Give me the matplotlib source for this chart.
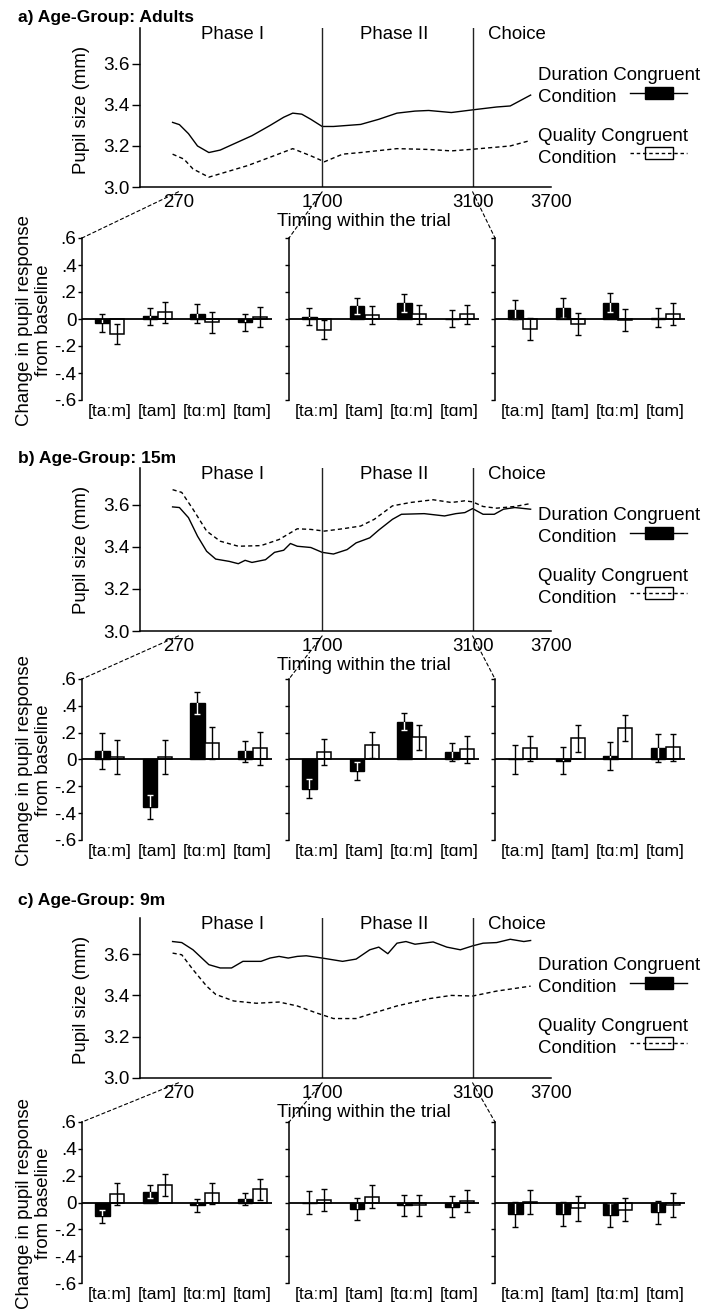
"""
Pupil size over the trial and change in pupil response per phase,
for adults, 15-month-olds and 9-month-olds
"""

import numpy as np
import matplotlib
matplotlib.use("Agg")
import matplotlib.pyplot as plt
from matplotlib.patches import Rectangle, ConnectionPatch
from matplotlib.lines import Line2D

plt.rcParams['font.family'] = ['Liberation Sans', 'DejaVu Sans']
plt.rcParams['font.size'] = 13.4

W, H = 707, 1314

# ---------------- data ----------------
time_ticks = [270, 1700, 3100, 3700]
phase_names = ['Phase I', 'Phase II', 'Choice']
sounds = ['[taːm]', '[tam]', '[tɑːm]', '[tɑm]']
bar_yticks = [-0.6, -0.4, -0.2, 0, 0.2, 0.4, 0.6]
bar_yticklabels = ['-.6', '-.4', '-.2', '0', '.2', '.4', '.6']
pupil_yticks = [3.0, 3.2, 3.4, 3.6]

# the time axis of the original is piecewise (phases drawn with their own widths)
axis_t = [-10000, -113, 270, 1700, 3100, 3700, 10000]
axis_u = [-2194, 0, 85, 402, 734, 907, 2723]

# pupil size traces (mm)
adults_dur_t = [211, 279, 369, 459, 572, 685, 820, 1001, 1181, 1317, 1407, 1497, 1587,
                1700, 1805, 2058, 2227, 2396, 2564, 2691, 2902, 3100, 3284, 3388, 3544]
adults_dur = [3.315, 3.304, 3.26, 3.20, 3.168, 3.18, 3.21, 3.25, 3.30, 3.34, 3.36, 3.355, 3.33,
              3.295, 3.295, 3.305, 3.33, 3.36, 3.37, 3.373, 3.363, 3.376, 3.39, 3.395, 3.448]
adults_qual_t = [211, 324, 414, 572, 956, 1181, 1407, 1587, 1721, 1890, 2058, 2396,
                 2691, 2902, 3100, 3388, 3544]
adults_qual = [3.16, 3.136, 3.088, 3.048, 3.104, 3.145, 3.187, 3.152, 3.123, 3.16, 3.168, 3.187,
               3.183, 3.176, 3.184, 3.2, 3.227]

m15_dur_t = [211, 279, 369, 459, 550, 640, 775, 865, 933, 1001, 1136, 1226, 1317, 1384, 1452,
             1587, 1700, 1805, 1932, 2016, 2143, 2227, 2354, 2438, 2649, 2839, 2944, 3028,
             3100, 3180, 3266, 3336, 3423, 3544]
m15_dur = [3.59, 3.587, 3.539, 3.451, 3.379, 3.342, 3.331, 3.32, 3.336, 3.326, 3.339, 3.374,
           3.384, 3.416, 3.403, 3.397, 3.374, 3.366, 3.387, 3.419, 3.443, 3.48, 3.531, 3.555,
           3.558, 3.547, 3.558, 3.563, 3.582, 3.555, 3.555, 3.579, 3.587, 3.579]
m15_qual_t = [211, 302, 414, 550, 685, 865, 1091, 1271, 1452, 1587, 1721, 1890, 2058, 2185,
              2354, 2522, 2733, 2902, 3028, 3100, 3180, 3284, 3423, 3544]
m15_qual = [3.672, 3.659, 3.579, 3.475, 3.427, 3.403, 3.406, 3.435, 3.486, 3.483, 3.475, 3.486,
            3.499, 3.531, 3.595, 3.611, 3.624, 3.611, 3.619, 3.614, 3.592, 3.584, 3.592, 3.606]

m9_dur_t = [211, 302, 414, 572, 685, 798, 911, 1091, 1181, 1271, 1362, 1452, 1542, 1700, 1890,
            2016, 2143, 2227, 2311, 2396, 2480, 2564, 2733, 2860, 2986, 3100, 3180, 3284,
            3388, 3492, 3544]
m9_dur = [3.661, 3.656, 3.621, 3.549, 3.533, 3.533, 3.565, 3.565, 3.581, 3.589, 3.581, 3.589,
          3.592, 3.581, 3.565, 3.576, 3.621, 3.634, 3.602, 3.653, 3.661, 3.648, 3.659, 3.634,
          3.621, 3.64, 3.653, 3.656, 3.672, 3.661, 3.666]
m9_qual_t = [211, 302, 414, 550, 640, 820, 1046, 1271, 1452, 1632, 1805, 2016, 2143, 2396,
             2691, 2902, 3100, 3284, 3544]
m9_qual = [3.605, 3.597, 3.525, 3.445, 3.405, 3.373, 3.362, 3.368, 3.349, 3.317, 3.288, 3.288,
           3.309, 3.349, 3.384, 3.4, 3.397, 3.421, 3.445]

# change in pupil response from baseline, rows = Phase I, Phase II, Choice
adults_bar_dur = [[-0.03, 0.02, 0.04, -0.025], [0.018, 0.095, 0.12, 0.003], [0.068, 0.083, 0.12, 0.008]]
adults_bar_dur_err = [[0.065, 0.065, 0.07, 0.065], [0.06, 0.06, 0.065, 0.06], [0.07, 0.075, 0.07, 0.07]]
adults_bar_qual = [[-0.11, 0.05, -0.025, 0.015], [-0.08, 0.03, 0.035, 0.035], [-0.075, -0.035, -0.008, 0.035]]
adults_bar_qual_err = [[0.075, 0.077, 0.075, 0.075], [0.07, 0.07, 0.07, 0.07], [0.08, 0.08, 0.08, 0.08]]

m15_bar_dur = [[0.063, -0.355, 0.42, 0.06], [-0.218, -0.085, 0.283, 0.055], [0.0, -0.01, 0.025, 0.083]]
m15_bar_dur_err = [[0.137, 0.087, 0.082, 0.08], [0.07, 0.065, 0.065, 0.065], [0.11, 0.1, 0.105, 0.105]]
m15_bar_qual = [[0.02, 0.02, 0.12, 0.083], [0.057, 0.107, 0.165, 0.075], [0.083, 0.158, 0.233, 0.09]]
m15_bar_qual_err = [[0.125, 0.125, 0.12, 0.125], [0.095, 0.095, 0.095, 0.1], [0.095, 0.1, 0.095, 0.1]]

m9_bar_dur = [[-0.104, 0.081, -0.022, 0.027], [0.0, -0.049, -0.02, -0.03], [-0.086, -0.086, -0.091, -0.074]]
m9_bar_dur_err = [[0.047, 0.047, 0.048, 0.045], [0.084, 0.08, 0.079, 0.08], [0.093, 0.09, 0.09, 0.086]]
m9_bar_qual = [[0.064, 0.131, 0.069, 0.099], [0.017, 0.044, -0.022, 0.01], [0.007, -0.042, -0.054, -0.017]]
m9_bar_qual_err = [[0.082, 0.083, 0.08, 0.079], [0.08, 0.084, 0.078, 0.08], [0.089, 0.094, 0.085, 0.089]]

groups = [
    dict(title='a) Age-Group: Adults', title_y=22, line=(28, 187), bars=(238, 400),
         dur=(adults_dur_t, adults_dur), qual=(adults_qual_t, adults_qual),
         bd=adults_bar_dur, bde=adults_bar_dur_err, bq=adults_bar_qual, bqe=adults_bar_qual_err),
    dict(title='b) Age-Group: 15m', title_y=463, line=(468, 631), bars=(679, 840),
         dur=(m15_dur_t, m15_dur), qual=(m15_qual_t, m15_qual),
         bd=m15_bar_dur, bde=m15_bar_dur_err, bq=m15_bar_qual, bqe=m15_bar_qual_err),
    dict(title='c) Age-Group: 9m', title_y=905, line=(918, 1078), bars=(1122, 1283),
         dur=(m9_dur_t, m9_dur), qual=(m9_qual_t, m9_qual),
         bd=m9_bar_dur, bde=m9_bar_dur_err, bq=m9_bar_qual, bqe=m9_bar_qual_err),
]


def fwd(t):
    return np.interp(t, axis_t, axis_u)


def inv(u):
    return np.interp(u, axis_u, axis_t)


def px_box(x0, y0, x1, y1):
    return [x0 / W, 1 - y1 / H, (x1 - x0) / W, (y1 - y0) / H]


def fx(x):
    return x / W


def fy(y):
    return 1 - y / H


def legend_entry(fig, y_base, y_sym, label, filled):
    # y_base is the baseline of the last line ("Condition")
    fig.text(fx(538), fy(y_base), label, ha='left', va='baseline', fontsize=13.4,
             linespacing=1.38)
    ls = '-' if filled else (0, (2.5, 2))
    fig.add_artist(Rectangle((fx(645), fy(y_sym + 6)), 28 / W, 12 / H,
                             facecolor='black' if filled else 'white',
                             edgecolor='black', lw=1.0, zorder=3))
    fig.add_artist(Line2D([fx(630), fx(687)], [fy(y_sym)] * 2, color='black',
                          lw=1.0, ls=ls, zorder=2 if filled else 4))


def draw_line_panel(fig, g):
    top, bot = g['line']
    ax = fig.add_axes(px_box(140, top, 551, bot))
    ax.set_xscale('function', functions=(fwd, inv))
    ax.plot(*g['dur'], color='black', lw=1.0)
    ax.plot(*g['qual'], color='black', lw=1.0, ls=(0, (3, 2.2)))
    for t in time_ticks[1:3]:
        ax.axvline(t, color='#222222', lw=1.0)
    ax.set_xlim(-113, 3700)
    ax.set_ylim(3.0, 3.775)
    ax.set_xticks(time_ticks)
    ax.set_xticklabels([str(t) for t in time_ticks])
    ax.set_yticks(pupil_yticks)
    ax.set_yticklabels(['%.1f' % v for v in pupil_yticks])
    ax.tick_params(axis='x', length=0, pad=5, labelsize=13.4)
    ax.tick_params(axis='y', length=6, width=1, pad=1.5, labelsize=13.6)
    for s in ['top', 'right']:
        ax.spines[s].set_visible(False)
    for s in ['left', 'bottom']:
        ax.spines[s].set_linewidth(1.1)
    h = bot - top
    for name, xf in zip(phase_names, [0.224, 0.618, 0.917]):
        ax.text(xf, 1 - 11 / h, name, transform=ax.transAxes, ha='center', va='baseline')
    fig.text(fx(364), fy(bot + 39), 'Timing within the trial', ha='center', va='baseline')
    fig.text(fx(81), fy(top + 82), 'Pupil size (mm)', rotation=90, ha='center', va='center')
    fig.text(fx(18), fy(g['title_y']), g['title'], fontweight='bold', fontsize=12.6,
             ha='left', va='baseline')
    legend_entry(fig, top + 74, top + 65, 'Duration Congruent\nCondition', True)
    legend_entry(fig, top + 135, top + 125, 'Quality Congruent\nCondition', False)
    return ax


def draw_bar_panel(fig, ax, dur, dur_err, qual, qual_err, first):
    x = np.arange(len(sounds))
    bd = ax.bar(x + 0.43, dur, 0.3, color='black', edgecolor='black', lw=1.0, zorder=2)
    ax.bar(x + 0.74, qual, 0.3, color='white', edgecolor='black', lw=1.1, zorder=2)
    ax.errorbar(x + 0.43, dur, yerr=dur_err, fmt='none', ecolor='black',
                elinewidth=1.0, capsize=2.2, capthick=1.0, zorder=3)
    ax.errorbar(x + 0.74, qual, yerr=qual_err, fmt='none', ecolor='black',
                elinewidth=1.0, capsize=2.2, capthick=1.0, zorder=3)
    # the part of the error bar inside a black bar is white
    for rect, xi, v, e in zip(bd, x + 0.43, dur, dur_err):
        eb = ax.errorbar([xi], [v], yerr=[e], fmt='none', ecolor='white',
                         elinewidth=1.0, capsize=2.2, capthick=1.0, zorder=4)
        for art in list(eb.lines[1]) + list(eb.lines[2]):
            art.set_clip_path(rect)
    ax.axhline(0, color='black', lw=1.3, zorder=5)
    ax.set_xlim(0, 4)
    ax.set_ylim(-0.6, 0.6)
    ax.set_xticks(x + 0.58)
    ax.set_xticklabels(sounds, fontsize=12.6)
    ax.tick_params(axis='x', length=0, pad=3)
    ax.set_yticks(bar_yticks)
    ax.set_yticklabels(bar_yticklabels if first else [])
    ax.tick_params(axis='y', length=3, width=1, pad=1, labelsize=13.6)
    for s in ['top', 'right', 'bottom']:
        ax.spines[s].set_visible(False)
    ax.spines['left'].set_linewidth(1.1)


fig = plt.figure(figsize=(W / 100, H / 100), dpi=100)

for g in groups:
    ax_line = draw_line_panel(fig, g)
    btop, bbot = g['bars']
    for k, x0 in enumerate([82, 289, 495]):
        ax = fig.add_axes(px_box(x0, btop, x0 + 190, bbot))
        draw_bar_panel(fig, ax, g['bd'][k], g['bde'][k], g['bq'][k], g['bqe'][k], k == 0)
        # dashed connector from the phase start on the time axis to the bar panel
        con = ConnectionPatch(xyA=(time_ticks[k], -0.03),
                              coordsA=ax_line.get_xaxis_transform(),
                              xyB=(0, 0.6), coordsB=ax.transData,
                              color='black', lw=0.8, ls=(0, (3, 2.5)))
        fig.add_artist(con)
    fig.text(fx(34), fy((btop + bbot) / 2 + 1), 'Change in pupil response\nfrom baseline',
             rotation=90, ha='center', va='center', multialignment='center')

fig.savefig('out.png', dpi=100)
